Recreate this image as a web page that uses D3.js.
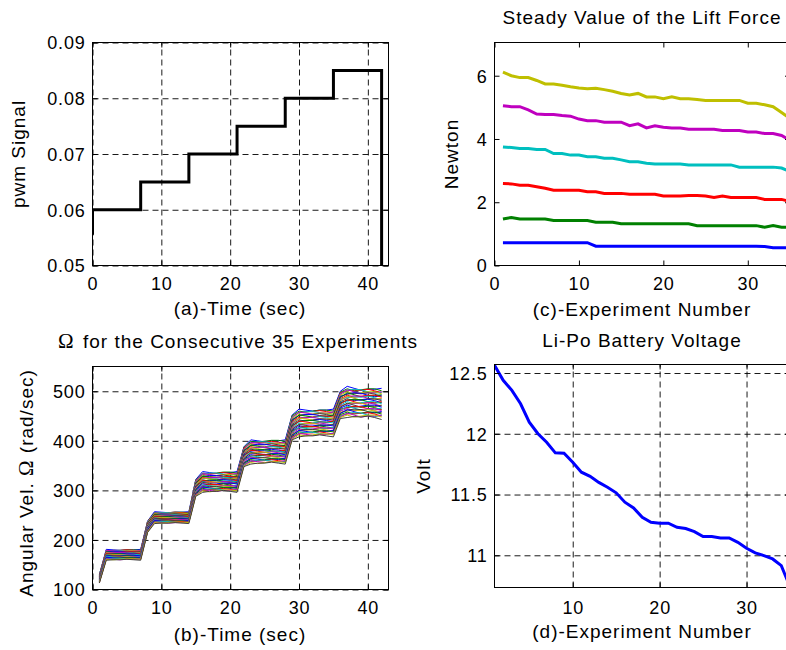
<!DOCTYPE html>
<html><head><meta charset="utf-8">
<script src="https://cdn.jsdelivr.net/npm/d3@7"></script>
<style>body{margin:0;background:#fff}svg{display:block;background:#fff}</style>
</head><body><svg id="c" width="786" height="650"></svg>
<script>
// ---------- DATA ----------
// (a) pwm signal staircase
const pwmTime  = [0, 0, 7, 7, 14, 14, 21, 21, 28, 28, 35, 35, 42, 42];
const pwmValue = [0.0555, 0.06, 0.06, 0.065, 0.065, 0.07, 0.07, 0.075, 0.075, 0.08, 0.08, 0.085, 0.085, 0.045];
const pwmXTicks = [0, 10, 20, 30, 40];
const pwmYTicks = [0.05, 0.06, 0.07, 0.08, 0.09];

// (b) angular velocity for 35 experiments, sampled at t = 1..42 s
const omegaTime = [1,2,3,4,5,6,7,8,9,10,11,12,13,14,15,16,17,18,19,20,21,22,23,24,25,26,27,28,29,30,31,32,33,34,35,36,37,38,39,40,41,42];
const omegaRuns = [
[130,181,180,179,180,180,181,238,257,256,255,256,256,257,322,338,336,334,336,336,338,388,402,400,398,400,400,402,452,464,462,460,462,462,464,500,510,506,502,504,504,506],
[130,179,178,179,180,180,179,237,255,254,255,256,256,255,321,335,333,335,337,337,335,387,399,397,399,401,401,399,451,460,458,460,462,462,460,498,505,501,503,505,505,501],
[129,178,179,179,180,179,178,237,254,255,255,256,255,254,320,332,334,334,336,334,332,386,395,397,397,399,397,395,449,457,459,459,461,459,457,497,501,503,502,504,501,497],
[129,178,179,179,178,177,178,236,254,255,255,254,253,254,319,333,335,335,333,331,333,384,396,398,398,396,394,396,448,457,459,459,457,455,457,495,502,504,503,499,496,498],
[128,179,178,177,178,178,179,235,254,253,252,253,253,254,318,334,332,330,332,332,334,383,397,395,393,395,395,397,446,458,456,454,456,456,458,494,503,499,495,497,497,499],
[128,177,176,177,178,178,177,235,253,252,253,254,254,253,317,330,328,330,332,332,330,382,393,391,393,395,395,393,445,454,452,454,456,456,454,492,499,495,497,499,499,495],
[127,175,176,176,177,176,175,234,251,252,252,253,252,251,316,327,329,329,331,329,327,381,390,392,392,394,392,390,443,451,453,453,455,453,451,490,494,496,495,497,494,490],
[127,176,177,177,176,175,176,233,251,252,252,251,250,251,315,328,330,330,328,326,328,380,391,393,393,391,389,391,442,451,453,453,451,449,451,489,495,497,496,492,489,491],
[126,176,175,174,175,175,176,233,252,251,250,251,251,252,314,329,327,325,327,327,329,379,391,389,387,389,389,391,440,452,450,448,450,450,452,487,497,493,489,491,491,493],
[126,175,174,175,176,176,175,232,250,249,250,251,251,250,313,326,324,326,328,328,326,377,388,386,388,390,390,388,439,448,446,448,450,450,448,485,492,488,490,492,492,488],
[125,173,174,174,175,174,173,231,249,250,250,251,250,249,312,323,325,325,327,325,323,376,385,387,387,389,387,385,437,445,447,447,449,447,445,484,487,489,488,490,487,483],
[125,174,175,175,174,173,174,231,249,250,250,249,248,249,311,324,326,326,324,322,324,375,385,387,387,385,383,385,436,445,447,447,445,443,445,482,489,491,490,486,483,485],
[124,174,173,172,173,173,174,230,249,248,247,248,248,249,310,325,323,321,323,323,325,374,386,384,382,384,384,386,434,446,444,442,444,444,446,481,490,486,482,484,484,486],
[124,172,171,172,173,173,172,229,248,247,248,249,249,248,309,321,319,321,323,323,321,373,383,381,383,385,385,383,433,442,440,442,444,444,442,479,485,481,483,485,485,481],
[123,171,172,172,173,172,171,229,246,247,247,248,247,246,308,318,320,320,322,320,318,372,379,381,381,383,381,379,431,439,441,441,443,441,439,477,481,483,482,484,481,477],
[123,171,172,172,171,170,171,228,246,247,247,246,245,246,307,319,321,321,319,317,319,370,380,382,382,380,378,380,430,439,441,441,439,437,439,476,482,484,483,479,476,478],
[122,172,171,170,171,171,172,227,247,246,245,246,246,247,306,320,318,316,318,318,320,369,381,379,377,379,379,381,428,440,438,436,438,438,440,474,483,479,475,477,477,479],
[122,170,169,170,171,171,170,227,245,244,245,246,246,245,305,317,315,317,319,319,317,368,377,375,377,379,379,377,427,436,434,436,438,438,436,472,479,475,477,479,479,475],
[121,168,169,169,170,169,168,226,243,244,244,245,244,243,304,314,316,316,318,316,314,367,374,376,376,378,376,374,426,432,434,434,436,434,432,471,474,476,475,477,474,470],
[121,169,170,170,169,168,169,225,244,245,245,244,243,244,303,315,317,317,315,313,315,366,375,377,377,375,373,375,424,433,435,435,433,431,433,469,475,477,476,472,469,471],
[120,169,168,167,168,168,169,224,244,243,242,243,243,244,302,316,314,312,314,314,316,364,376,374,372,374,374,376,423,433,431,429,431,431,433,468,476,472,468,470,470,472],
[120,168,167,168,169,169,168,224,242,241,242,243,243,242,301,313,311,313,315,315,313,363,372,370,372,374,374,372,421,430,428,430,432,432,430,466,472,468,470,472,472,468],
[119,166,167,167,168,167,166,223,241,242,242,243,242,241,300,309,311,311,313,311,309,362,369,371,371,373,371,369,420,426,428,428,430,428,426,464,467,469,468,470,467,463],
[119,166,167,167,166,165,166,222,241,242,242,241,240,241,299,310,312,312,310,308,310,361,370,372,372,370,368,370,418,427,429,429,427,425,427,463,468,470,469,465,462,464],
[118,167,166,165,166,166,167,222,241,240,239,240,240,241,298,311,309,307,309,309,311,360,370,368,366,368,368,370,417,427,425,423,425,425,427,461,470,466,462,464,464,466],
[118,165,164,165,166,166,165,221,240,239,240,241,241,240,297,308,306,308,310,310,308,359,367,365,367,369,369,367,415,424,422,424,426,426,424,460,465,461,463,465,465,461],
[117,164,165,165,166,165,164,220,238,239,239,240,239,238,296,305,307,307,309,307,305,357,364,366,366,368,366,364,414,420,422,422,424,422,420,458,460,462,461,463,460,456],
[117,164,165,165,164,163,164,220,239,240,240,239,238,239,295,306,308,308,306,304,306,356,364,366,366,364,362,364,412,421,423,423,421,419,421,456,462,464,463,459,456,458],
[116,165,164,163,164,164,165,219,239,238,237,238,238,239,294,307,305,303,305,305,307,355,365,363,361,363,363,365,411,421,419,417,419,419,421,455,463,459,455,457,457,459],
[116,163,162,163,164,164,163,218,237,236,237,238,238,237,293,304,302,304,306,306,304,354,362,360,362,364,364,362,409,418,416,418,420,420,418,453,458,454,456,458,458,454],
[115,161,162,162,163,162,161,218,236,237,237,238,237,236,292,300,302,302,304,302,300,353,358,360,360,362,360,358,408,414,416,416,418,416,414,451,454,456,455,457,454,450],
[115,162,163,163,162,161,162,217,236,237,237,236,235,236,291,301,303,303,301,299,301,352,359,361,361,359,357,359,406,415,417,417,415,413,415,450,455,457,456,452,449,451],
[114,162,161,160,161,161,162,216,236,235,234,235,235,236,290,302,300,298,300,300,302,350,360,358,356,358,358,360,405,415,413,411,413,413,415,448,456,452,448,450,450,452],
[114,161,160,161,162,162,161,216,235,234,235,236,236,235,289,299,297,299,301,301,299,349,356,354,356,358,358,356,403,412,410,412,414,414,412,447,452,448,450,452,452,448],
[113,159,160,160,161,160,159,215,233,234,234,235,234,233,288,296,298,298,300,298,296,348,353,355,355,357,355,353,402,408,410,410,412,410,408,445,447,449,448,450,447,443]
];
const omegaColors = ["#0000ff","#008000","#ff0000","#00bfbf","#bf00bf","#bfbf00","#404040"];
const omegaXTicks = [0, 10, 20, 30, 40];
const omegaYTicks = [100, 200, 300, 400, 500];

// (c) steady lift force per experiment (6 pwm levels)
const experiments = [1,2,3,4,5,6,7,8,9,10,11,12,13,14,15,16,17,18,19,20,21,22,23,24,25,26,27,28,29,30,31,32,33,34,35];
const liftBlue    = [0.72,0.72,0.72,0.72,0.72,0.72,0.72,0.72,0.72,0.72,0.72,0.61,0.61,0.61,0.61,0.61,0.61,0.61,0.61,0.61,0.61,0.61,0.61,0.61,0.61,0.61,0.61,0.61,0.61,0.61,0.61,0.60,0.56,0.56,0.56];
const liftGreen   = [1.47,1.52,1.47,1.47,1.47,1.47,1.42,1.42,1.42,1.42,1.42,1.37,1.37,1.37,1.32,1.32,1.32,1.32,1.32,1.32,1.32,1.32,1.32,1.26,1.26,1.26,1.26,1.26,1.26,1.26,1.26,1.21,1.26,1.21,1.21];
const liftRed     = [2.59,2.58,2.54,2.54,2.49,2.44,2.38,2.38,2.38,2.38,2.33,2.33,2.28,2.28,2.28,2.25,2.25,2.25,2.25,2.20,2.20,2.20,2.21,2.21,2.20,2.15,2.20,2.15,2.15,2.15,2.15,2.09,2.09,2.09,2.02];
const liftCyan    = [3.75,3.73,3.70,3.70,3.67,3.67,3.54,3.54,3.49,3.49,3.44,3.44,3.39,3.39,3.34,3.28,3.28,3.23,3.21,3.21,3.21,3.21,3.18,3.18,3.18,3.18,3.18,3.18,3.11,3.11,3.11,3.11,3.11,3.08,2.97];
const liftMagenta = [5.05,5.02,5.02,4.92,4.79,4.77,4.77,4.74,4.72,4.63,4.58,4.58,4.53,4.53,4.53,4.42,4.48,4.35,4.42,4.37,4.35,4.35,4.31,4.31,4.31,4.31,4.27,4.27,4.27,4.22,4.22,4.17,4.17,4.11,3.96];
const liftYellow  = [6.11,6.00,5.94,5.94,5.85,5.74,5.74,5.70,5.65,5.61,5.59,5.60,5.56,5.51,5.44,5.39,5.44,5.33,5.33,5.27,5.33,5.27,5.27,5.25,5.22,5.22,5.22,5.22,5.22,5.13,5.13,5.08,5.02,4.84,4.65];
const liftXTicks = [0, 10, 20, 30];
const liftYTicks = [0, 2, 4, 6];

// (d) Li-Po battery voltage per experiment
const batteryVolt = [12.563,12.44,12.357,12.247,12.096,12.0,11.93,11.843,11.84,11.766,11.684,11.65,11.60,11.56,11.514,11.437,11.39,11.313,11.272,11.264,11.264,11.23,11.22,11.195,11.154,11.154,11.143,11.143,11.107,11.058,11.02,10.997,10.97,10.915,10.74];
const battXTicks = [10, 20, 30];
const battYTicks = [11, 11.5, 12, 12.5];

// ---------- DRAWING ----------
const FONT = '"Liberation Sans", Arial, Helvetica, sans-serif';
const SERIF = '"Liberation Serif", "DejaVu Serif", serif';
const svg = d3.select("#c");
let clipId = 0;
const plainFmt = d => String(d);

function panel(o) {
  const x = d3.scaleLinear().domain(o.xDomain).range([o.left, o.right]);
  const y = d3.scaleLinear().domain(o.yDomain).range([o.bottom, o.top]);
  const W = o.right - o.left, H = o.bottom - o.top;
  const g = svg.append("g");
  const styleGrid = s => {
    s.select(".domain").remove();
    s.selectAll("line").attr("stroke", "#000").attr("stroke-width", 0.9).attr("stroke-dasharray", "6,4");
  };
  if (o.grid) {
    g.append("g").attr("transform", `translate(0,${o.bottom})`)
      .call(d3.axisBottom(x).tickValues(o.xTicks).tickSize(-H).tickFormat("")).call(styleGrid);
    g.append("g").attr("transform", `translate(${o.left},0)`)
      .call(d3.axisLeft(y).tickValues(o.yTicks).tickSize(-W).tickFormat("")).call(styleGrid);
  }
  const id = "clip" + (clipId++);
  svg.append("clipPath").attr("id", id).append("rect")
    .attr("x", o.left).attr("y", o.top).attr("width", W).attr("height", H);
  const data = g.append("g").attr("clip-path", `url(#${id})`);

  g.append("rect").attr("x", o.left).attr("y", o.top).attr("width", W).attr("height", H)
    .attr("fill", "none").attr("stroke", "#000").attr("stroke-width", 1);

  const styleAxis = s => {
    s.select(".domain").remove();
    s.attr("font-family", FONT).attr("font-size", 18);
    s.selectAll("line").attr("stroke", "#000");
    s.selectAll("text").attr("fill", "#000").attr("letter-spacing", "0.8px");
  };
  const bx = g.append("g").attr("transform", `translate(0,${o.bottom})`)
    .call(d3.axisBottom(x).tickValues(o.xTicks).tickSize(-5).tickSizeOuter(0).tickFormat(plainFmt)).call(styleAxis);
  bx.selectAll("text").attr("y", o.xTickBase).attr("dy", 0);
  const ly = g.append("g").attr("transform", `translate(${o.left},0)`)
    .call(d3.axisLeft(y).tickValues(o.yTicks).tickSize(-5).tickSizeOuter(0).tickFormat(o.yFormat || plainFmt)).call(styleAxis);
  ly.selectAll("text").attr("x", -7).attr("dy", "0.35em");
  g.append("g").attr("transform", `translate(0,${o.top})`)
    .call(d3.axisTop(x).tickValues(o.xTicks).tickSize(-5).tickSizeOuter(0).tickFormat("")).call(styleAxis);
  g.append("g").attr("transform", `translate(${o.right},0)`)
    .call(d3.axisRight(y).tickValues(o.yTicks).tickSize(-5).tickSizeOuter(0).tickFormat("")).call(styleAxis);
  return {x, y, data};
}

function label(txt, x, y, rotate, anchor) {
  const t = svg.append("text").attr("font-family", FONT).attr("font-size", 19)
    .attr("letter-spacing", "1px").attr("fill", "#000")
    .attr("text-anchor", anchor || "middle");
  if (rotate) t.attr("transform", `translate(${x},${y}) rotate(-90)`);
  else t.attr("x", x).attr("y", y);
  return t.text(txt);
}

// (a) pwm
{
  const p = panel({left: 92.5, right: 388.5, top: 42.5, bottom: 265.5,
    xDomain: [0, 43], yDomain: [0.05, 0.09], xTicks: pwmXTicks, yTicks: pwmYTicks,
    grid: true, xTickBase: 24, yFormat: d3.format(".2f")});
  const line = d3.line().x((d, i) => p.x(pwmTime[i])).y(d => p.y(d));
  p.data.append("path").datum(pwmValue).attr("d", line)
    .attr("fill", "none").attr("stroke", "#000").attr("stroke-width", 3);
  label("pwm Signal", 25, 154, true);
  label("(a)-Time (sec)", 240, 315);
}

// (c) lift force
{
  const p = panel({left: 494.5, right: 790, top: 42.5, bottom: 265.5,
    xDomain: [0, 35], yDomain: [0, 7.05], xTicks: liftXTicks, yTicks: liftYTicks,
    grid: false, xTickBase: 24});
  const line = d3.line().x((d, i) => p.x(experiments[i])).y(d => p.y(d));
  const series = [[liftBlue, "#0000ff"], [liftGreen, "#008000"], [liftRed, "#ff0000"],
                  [liftCyan, "#00bfbf"], [liftMagenta, "#bf00bf"], [liftYellow, "#bfbf00"]];
  series.forEach(([vals, col]) => {
    p.data.append("path").datum(vals).attr("d", line)
      .attr("fill", "none").attr("stroke", col).attr("stroke-width", 3);
  });
  label("Steady Value of the Lift Force", 642, 24);
  label("Newton", 458, 154, true);
  label("(c)-Experiment Number", 642, 316);
}

// (b) omega
{
  const p = panel({left: 92.5, right: 388.5, top: 366.5, bottom: 589.5,
    xDomain: [0, 43], yDomain: [100, 550], xTicks: omegaXTicks, yTicks: omegaYTicks,
    grid: true, xTickBase: 24});
  const line = d3.line().x((d, i) => p.x(omegaTime[i])).y(d => p.y(d));
  omegaRuns.forEach((vals, k) => {
    p.data.append("path").datum(vals).attr("d", line)
      .attr("fill", "none").attr("stroke", omegaColors[k % omegaColors.length]).attr("stroke-width", 1);
  });
  const t = svg.append("text").attr("font-family", FONT).attr("font-size", 19)
    .attr("letter-spacing", "1px").attr("x", 58).attr("y", 348);
  t.append("tspan").attr("font-family", SERIF).attr("font-size", 21).text("Ω");
  t.append("tspan").attr("x", 83).text("for the Consecutive 35 Experiments");
  const yl = svg.append("text").attr("font-family", FONT).attr("font-size", 19)
    .attr("letter-spacing", "1px").attr("text-anchor", "middle")
    .attr("transform", "translate(33,483) rotate(-90)");
  yl.append("tspan").text("Angular Vel. ");
  yl.append("tspan").attr("font-family", SERIF).attr("font-size", 21).text("Ω");
  yl.append("tspan").text("  (rad/sec)");
  label("(b)-Time (sec)", 240, 641);
}

// (d) battery
{
  const p = panel({left: 494.5, right: 790, top: 364.5, bottom: 587.5,
    xDomain: [1, 35], yDomain: [10.735, 12.57], xTicks: battXTicks, yTicks: battYTicks,
    grid: true, xTickBase: 26});
  const line = d3.line().x((d, i) => p.x(experiments[i])).y(d => p.y(d));
  p.data.append("path").datum(batteryVolt).attr("d", line)
    .attr("fill", "none").attr("stroke", "#0000ff").attr("stroke-width", 3);
  label("Li-Po Battery Voltage", 642, 347);
  label("Volt", 430, 476, true);
  label("(d)-Experiment Number", 642, 638);
}
</script></body></html>
